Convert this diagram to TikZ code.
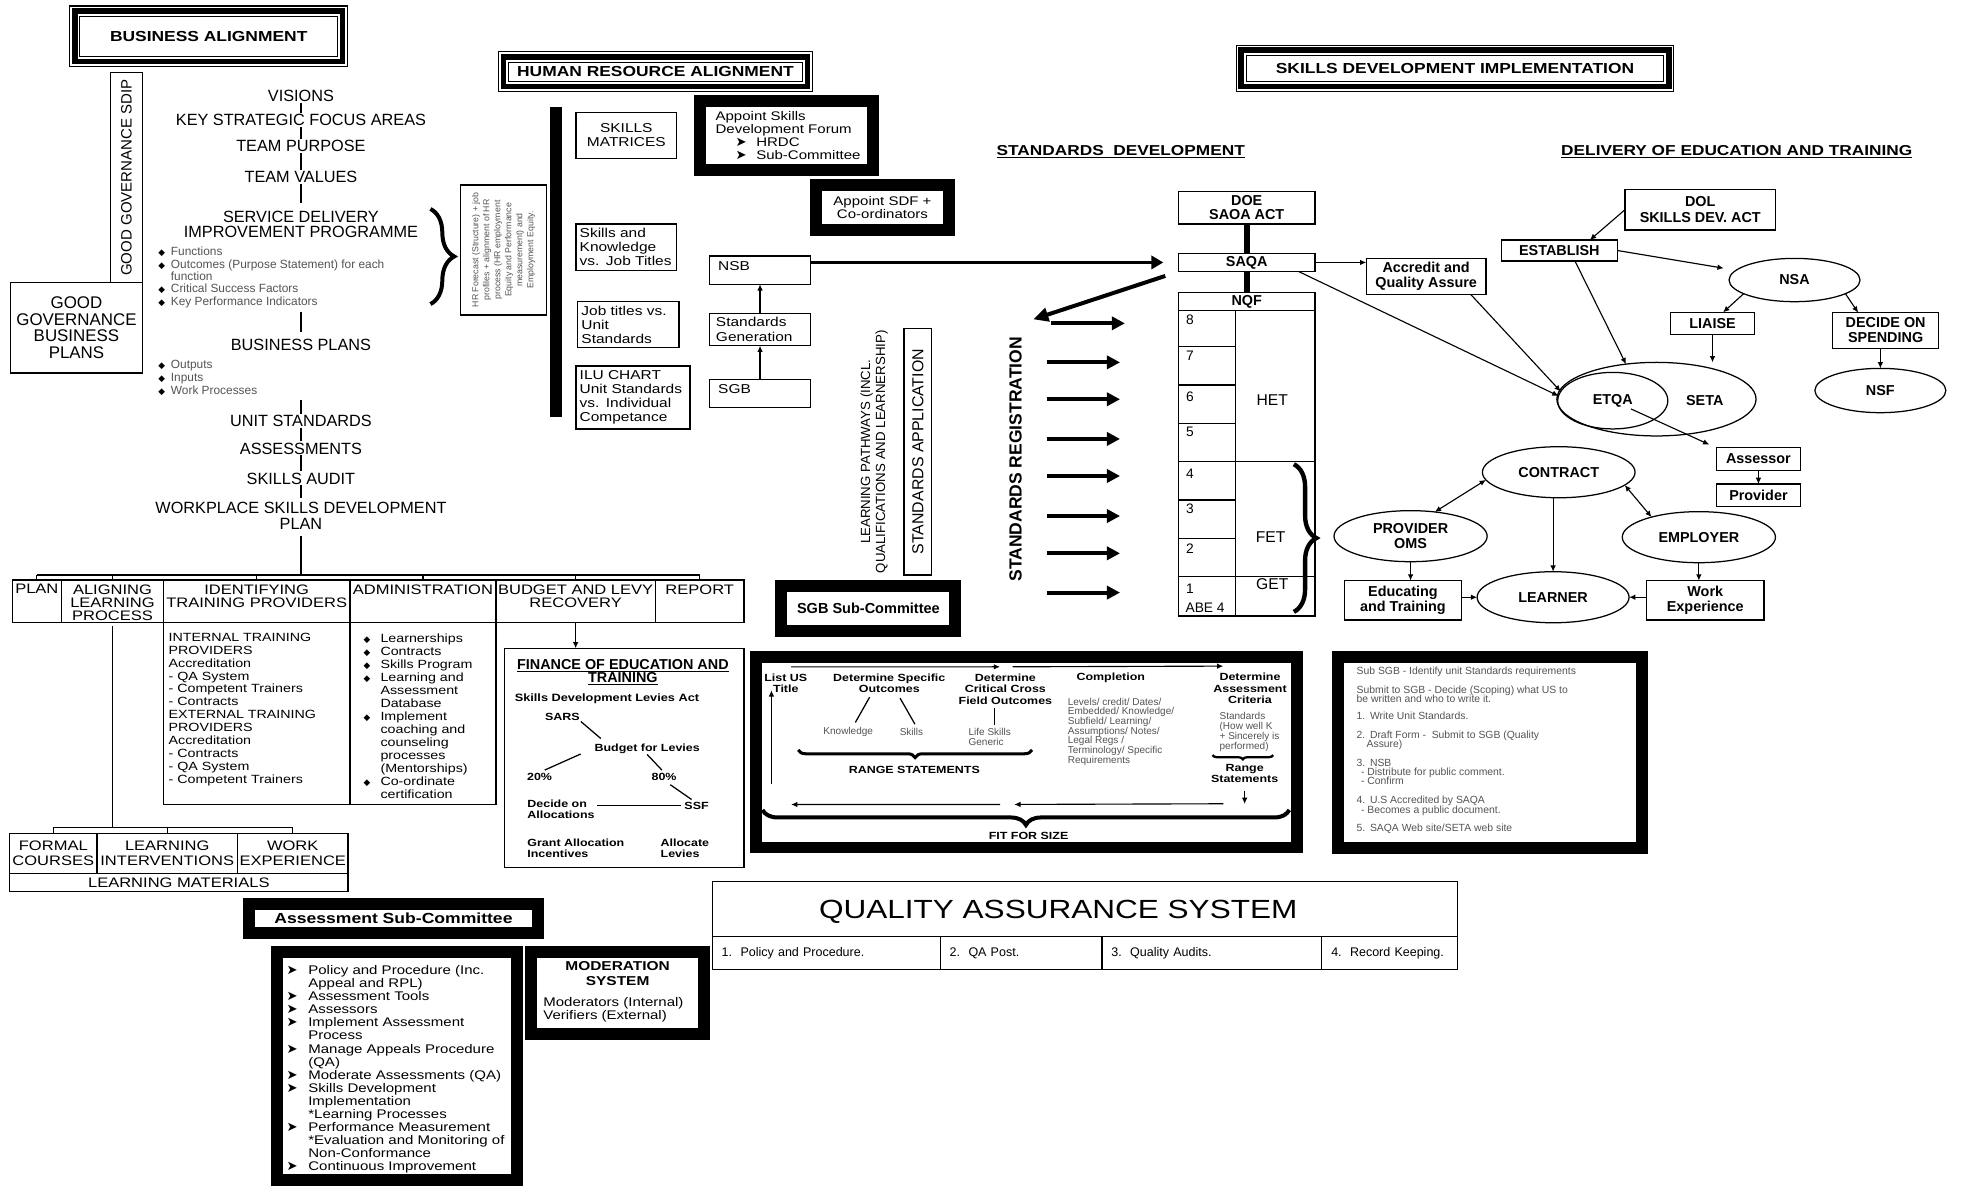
\documentclass[tikz,border=0pt]{standalone}
\usepackage{fontspec}
\setmainfont{Liberation Sans}
\newfontfamily\widefont{Liberation Sans}[FakeStretch=1.2]
\newfontfamily\dejavu{DejaVu Sans}
\usetikzlibrary{arrows.meta,decorations.pathreplacing,calc,shapes.geometric}
\newcommand\fsz[2]{\fontsize{#1}{#2}\selectfont}
\newcommand\bulletdia[2]{\makebox[#1][l]{\color{black}\dejavu\fontsize{#2}{#2}\selectfont ◆}}
\newcommand\bulletarrow[1]{\makebox[#1][l]{\dejavu\fontsize{10.5}{10}\selectfont ➤}}
\definecolor{soft}{gray}{0.33}
\newcommand\tripleframe[1]{%
  \draw[line width=4.5pt] ($(#1.north west)+(4.2,4.2)$) rectangle ($(#1.south east)-(4.2,4.2)$);
  \draw[line width=0.8pt] ($(#1.north west)+(8.3,8.3)$) rectangle ($(#1.south east)-(8.3,8.3)$);}
\tikzset{
  every node/.style={inner sep=0pt, outer sep=0pt},
  tbox/.style={draw, line width=1pt},
  hdr/.style={draw, line width=0.8pt, font=\widefont\bfseries\fsz{11.6}{13}},
  spine/.style={font=\fsz{13}{12}, inner sep=1pt},
  capsline/.style={text height=9.3pt, text depth=0pt},
  hrbox/.style={tbox, font=\widefont\fsz{10.3}{11.2}},
  heavybox/.style={draw, line width=9.5pt, fill=white},
  ovl/.style={ellipse, draw, line width=1pt, font=\bfseries\fsz{11.5}{12}, align=center},
  dbox/.style={tbox, font=\bfseries\fsz{11.5}{12}, align=center},
  arw/.style={-{Latex[length=5pt,width=4.5pt]}, line width=0.9pt},
  twotip/.style={{Latex[length=5pt,width=4.5pt]}-{Latex[length=5pt,width=4.5pt]}, line width=0.9pt},
  fatarrow/.style={line width=3.2pt, -{Triangle[length=10.5pt,width=10.5pt]}},
  cellbox/.style={tbox, anchor=north west},
  celltext/.style={font=\widefont\fsz{11}{10.6}, align=center, anchor=north},
  finl/.style={font=\widefont\bfseries\fsz{8.3}{8.7}},
  sth/.style={font=\widefont\bfseries\fsz{8.3}{9.2}, align=center},
  small/.style={font=\fsz{8}{8}, text=soft},
}
\begin{document}
\lineskiplimit=-20pt
\begin{tikzpicture}[x=1pt, y=-1pt, line width=1pt]
\useasboundingbox (0,0) rectangle (1568,949);
\fill[white] (0,0) rectangle (1568,949);

% ---------- section headers ----------
\node[hdr, minimum width=222.4pt, minimum height=48.5pt] (ba) at (166.8,29.05) {BUSINESS ALIGNMENT};
\tripleframe{ba}
\node[hdr, minimum width=251.3pt, minimum height=32pt] (hra) at (523.85,57.3) {HUMAN RESOURCE ALIGNMENT};
\tripleframe{hra}
\node[hdr, minimum width=350pt, minimum height=37.3pt] (sdi) at (1162.8,54.65) {SKILLS DEVELOPMENT IMPLEMENTATION};
\tripleframe{sdi}

% ---------- business alignment column ----------
\node[tbox, rotate=90, minimum width=168pt, minimum height=25.1pt, font=\fsz{12}{13}] (sdip) at (101.05,142) {GOOD GOVERNANCE SDIP};
\node[tbox, minimum width=105pt, minimum height=72pt, font=\fsz{13.5}{13.3}, align=center] (ggbp) at (61.1,262) {GOOD\\GOVERNANCE\\BUSINESS\\PLANS};

\node[spine, capsline] (vis) at (240.5,76.7) {VISIONS};
\node[spine, capsline] (ksfa) at (240.5,95.9) {KEY STRATEGIC FOCUS AREAS};
\node[spine, capsline] (tpur) at (240.5,116.7) {TEAM PURPOSE};
\node[spine, capsline] (tval) at (240.5,141.2) {TEAM VALUES};
\node[spine, align=center, font=\fsz{13}{11.4}] (sdp) at (240.5,179.4) {SERVICE DELIVERY\\IMPROVEMENT PROGRAMME};
\node[anchor=north west, align=left, font=\fsz{9.5}{9.85}, text=soft] (sdbul) at (126.6,197.7)
  {\bulletdia{10pt}{7}Functions\\\bulletdia{10pt}{7}Outcomes (Purpose Statement) for each\\\hspace*{10pt}function\\\bulletdia{10pt}{7}Critical Success Factors\\\bulletdia{10pt}{7}Key Performance Indicators};
\node[spine, capsline] (bp) at (240.5,275.7) {BUSINESS PLANS};
\node[anchor=north west, align=left, font=\fsz{9.5}{10.25}, text=soft] (bpbul) at (126.6,287.8)
  {\bulletdia{10pt}{7}Outputs\\\bulletdia{10pt}{7}Inputs\\\bulletdia{10pt}{7}Work Processes};
\node[spine, capsline] (ust) at (240.5,336.2) {UNIT STANDARDS};
\node[spine, capsline] (asm) at (240.5,358.3) {ASSESSMENTS};
\node[spine, capsline] (sau) at (240.5,382.3) {SKILLS AUDIT};
\node[spine, align=center, font=\fsz{13}{12.8}] (wsdp) at (240.5,412.6) {WORKPLACE SKILLS DEVELOPMENT\\PLAN};

\draw (vis) -- (ksfa);
\draw (ksfa) -- (tpur);
\draw (tpur) -- (tval);
\draw[shorten >=6pt] (tval) -- (sdp);
\coordinate (bpTop) at (240.5,249);
\draw[shorten >=5pt] (bpTop) -- (bp.north);
\coordinate (usTop) at (240.5,319.7);
\draw (usTop) -- (ust.north);
\draw (ust) -- (asm);
\draw (asm) -- (sau);
\draw[shorten >=3pt] (sau) -- (wsdp);
\coordinate (busC) at (240.5,459.5);
\draw[shorten <=4pt] (wsdp.south) -- (busC);

\draw[decorate, decoration={brace, amplitude=19pt}, line width=3.2pt] (344,167) -- (344,243);
\node[tbox, rotate=90, minimum width=103.9pt, minimum height=68.5pt, align=center, font=\fsz{7}{8.8}, text=soft] (hrf) at (402.45,199.75)
  {HR Forecast (Structure) + job\\profiles + alignment of HR\\process (HR employment\\Equity and Performance\\measurement) and\\Employment Equity.};
\fill (439.5,85.2) rectangle (448.9,333);

% ---------- human resource column ----------
\node[hrbox, minimum width=80.5pt, minimum height=36.5pt, align=center] (skm) at (500.55,108.25) {SKILLS\\MATRICES};
\node[hrbox, text width=74.5pt, inner xsep=3pt, minimum height=37.3pt, align=left] (skj) at (500.55,197.65) {Skills and\\Knowledge\\vs. Job Titles};
\node[hrbox, text width=74.9pt, inner xsep=3pt, minimum height=36.5pt, align=left] (jtu) at (502.15,259.35) {Job titles vs.\\Unit\\Standards};
\node[hrbox, text width=85.1pt, inner xsep=3pt, minimum height=50.3pt, align=left] (ilu) at (505.85,317.65) {ILU CHART\\Unit Standards\\vs. Individual\\Competance};

\node[heavybox, text width=113.6pt, inner xsep=12.5pt, minimum height=54.9pt, align=left, font=\widefont\fsz{10}{10.2}] (asdf) at (628.7,108.35)
  {\mbox{Appoint Skills}\\\mbox{Development Forum}\\\mbox{\hspace*{16pt}\bulletarrow{16.5pt}HRDC}\\\mbox{\hspace*{16pt}\bulletarrow{16.5pt}Sub-Committee}};
\node[heavybox, minimum width=106.9pt, minimum height=35.3pt, align=center, font=\widefont\fsz{10}{9.8}] (sdfc) at (705.25,165.85) {Appoint SDF +\\Co-ordinators};

\node[hrbox, text width=66.8pt, inner xsep=7.1pt, minimum height=22.6pt, align=left, text height=7.4pt, text depth=6.6pt] (nsb) at (607.4,215.9) {NSB};
\node[hrbox, text width=70.4pt, inner xsep=5.3pt, minimum height=25.9pt, align=left, font=\widefont\fsz{10.3}{11.7}] (sgen) at (607.4,263.35) {Standards\\Generation};
\node[hrbox, text width=66.8pt, inner xsep=7.1pt, minimum height=22.4pt, align=left, text height=7.4pt, text depth=6.4pt] (sgb) at (607.4,314.3) {SGB};

% ---------- standards development ----------
\node[anchor=base, font=\widefont\bfseries\fsz{11.5}{12}] (stdev) at (895.7,124.5) {\underline{STANDARDS\ \ DEVELOPMENT}};
\node[dbox, minimum width=109.3pt, minimum height=25.8pt, font=\bfseries\fsz{11.5}{11.4}] (doe) at (996.35,166.1) {DOE\\SAOA ACT};
\node[dbox, minimum width=109.3pt, minimum height=14.7pt] (saqa) at (996.35,209.75) {SAQA};
\node[dbox, minimum width=109.3pt, minimum height=14.7pt] (nqf) at (996.35,240.95) {NQF};
\draw[line width=4.5pt] (doe) -- (saqa);
\draw[line width=4.5pt] (saqa) -- (nqf);

\draw (941.7,248.3) rectangle (1051,492.3);
\draw (987.5,248.3) -- (987.5,492.3);
\foreach \y in {277,307.7,338.3,399.6,430.2} \draw (941.7,\y) -- (987.5,\y);
\foreach \y in {369,460.9} \draw (941.7,\y) -- (1051,\y);
\foreach \n/\y in {8/255.7,7/284.2,6/317,5/345,4/378.3,3/406.8,2/438.2,1/470.2}
  \node[font=\fsz{11}{12}] (lv\n) at (951,\y) {\n};
\node[font=\fsz{11}{12}, anchor=west] (abe) at (947.5,485.4) {ABE 4};
\node[font=\fsz{12.5}{13}] (het) at (1016.8,319.7) {HET};
\node[font=\fsz{12.5}{13}] (fet) at (1015.5,429.4) {FET};
\node[font=\fsz{12.5}{13}] (get) at (1016.8,466.7) {GET};
\draw[decorate, decoration={brace, amplitude=18pt}, line width=3.5pt] (1034,371) -- (1034,489);

\node[rotate=90, font=\bfseries\fsz{14}{15}] (sreg) at (811.7,367) {STANDARDS REGISTRATION};
\foreach \xa/\xb/\y [count=\i] in {840/899/258.4,836.5/895.1/289.6,836.5/895.1/319.1,836.5/895.1/350.8,836.5/895.1/380.4,836.5/895.1/412.4,836.5/895.1/442.2,836.5/895.1/473.6} {
  \coordinate (ra\i) at (\xa,\y);
  \coordinate (rb\i) at (\xb,\y);
  \draw[fatarrow] (ra\i) -- (rb\i);}
\coordinate (regtip) at (825.8,255.2);
\draw[line width=3.2pt, -{Triangle[length=12pt,width=11pt]}, shorten <=11pt] (saqa.south west) -- (regtip);

\node[rotate=90, align=center, font=\fsz{10.6}{12}] (lpw) at (698.6,361) {LEARNING PATHWAYS (INCL.\\QUALIFICATIONS AND LEARNERSHIP)};
\node[tbox, rotate=90, minimum width=197.1pt, minimum height=22.1pt, font=\fsz{12.7}{13}] (sapp) at (733.55,360.95) {STANDARDS APPLICATION};
\node[heavybox, minimum width=139pt, minimum height=36pt, font=\bfseries\fsz{11.6}{12}] (sgbsc) at (694,486.5) {SGB Sub-Committee};

\draw[arw] (sgb) -- (sgen);
\draw[arw] (sgen) -- (nsb);
\draw[line width=2.7pt, -{Triangle[length=9.5pt,width=10.5pt]}, shorten >=12pt] (nsb.east |- saqa.west) -- (saqa.west);

% ---------- delivery of education and training ----------
\node[anchor=base, font=\widefont\bfseries\fsz{11.5}{12}] (delt) at (1388,124) {\underline{DELIVERY OF EDUCATION AND TRAINING}};
\node[dbox, minimum width=120.2pt, minimum height=32.5pt, font=\bfseries\fsz{11.5}{13.3}] (dol) at (1358.8,167.55) {DOL\\SKILLS DEV. ACT};
\node[dbox, minimum width=92.8pt, minimum height=16.8pt] (est) at (1246.2,200.2) {ESTABLISH};
\node[ovl, minimum width=104.7pt, minimum height=34.6pt] (nsa) at (1434.15,223.8) {NSA};
\node[dbox, minimum width=67pt, minimum height=17.6pt] (liaise) at (1368.6,258.4) {LIAISE};
\node[dbox, minimum width=84.7pt, minimum height=28.5pt] (dos) at (1506.95,264.15) {DECIDE ON\\SPENDING};
\node[ovl, minimum width=104.7pt, minimum height=35.4pt] (nsf) at (1502.75,312.1) {NSF};
\node[ovl, minimum width=159.2pt, minimum height=58.8pt] (seta) at (1323.8,319) {};
\node[font=\bfseries\fsz{11.5}{12}] (setat) at (1362.4,320.2) {SETA};
\node[ovl, minimum width=88pt, minimum height=45.2pt] (etqa) at (1288.9,320.2) {ETQA};
\node[dbox, minimum width=95.7pt, minimum height=28.7pt] (acc) at (1139.75,220.85) {Accredit and\\Quality Assure};
\node[dbox, minimum width=67.6pt, minimum height=18.7pt] (assr) at (1405.3,366.85) {Assessor};
\node[dbox, minimum width=67.6pt, minimum height=18.1pt] (prov) at (1405.3,395.85) {Provider};
\node[ovl, minimum width=122pt, minimum height=40.8pt] (ctr) at (1245.7,377.4) {CONTRACT};
\node[ovl, minimum width=122.4pt, minimum height=40.8pt] (pom) at (1127.3,428.5) {PROVIDER\\OMS};
\node[ovl, minimum width=122.4pt, minimum height=40.8pt] (emp) at (1357.7,429.3) {EMPLOYER};
\node[ovl, minimum width=121.4pt, minimum height=40.8pt] (lrn) at (1241.2,477.3) {LEARNER};
\node[dbox, minimum width=94pt, minimum height=31.5pt, font=\bfseries\fsz{11.5}{11.4}] (edu) at (1121.2,479.75) {Educating\\and Training};
\node[dbox, minimum width=94pt, minimum height=31.5pt, font=\bfseries\fsz{11.5}{11.4}] (wex) at (1362.8,479.75) {Work\\Experience};

\draw[arw] (dol.west) -- (est.19);
\draw[arw, shorten >=10pt] (est.east) -- (nsa);
\draw[arw] (nsa.195) -- (liaise.46);
\draw[arw] (nsa.345) -- (dos.147);
\draw[arw] (dos.south -| nsf) -- (nsf.north);
\draw[arw] (liaise.south) -- (liaise.south |- seta.north);
\draw[arw] (est.-34) -- (seta.131);
\draw[arw] (saqa.east) -- (saqa.east -| acc.west);
\draw[arw] (saqa.-10) -- (etqa.175);
\draw[arw] (acc.-22) -- (etqa.170);
\draw[arw, shorten <=16pt, shorten >=6pt] (etqa.center) -- (assr.165);
\draw[arw] (assr.south) -- (prov.north);
\draw[twotip] (ctr.186) -- (pom.45);
\draw[twotip] (ctr.-11) -- (emp.157);
\draw[arw] (ctr.south -| lrn) -- (lrn.north);
\draw[arw] (pom.south) -- (pom.south |- edu.north);
\draw[arw] (emp.south) -- (emp.south |- wex.north);
\draw[arw] (edu.east |- lrn.west) -- (lrn.west);
\draw[arw] (wex.west |- lrn.east) -- (lrn.east);

% ---------- workplace skills plan table ----------
\node[cellbox, minimum width=39.5pt, minimum height=34.1pt] (c1) at (9.7,463.5) {};
\node[cellbox, minimum width=81.4pt, minimum height=34.1pt] (c2) at (49.2,463.5) {};
\node[cellbox, minimum width=149.1pt, minimum height=34.1pt] (c3) at (130.6,463.5) {};
\node[cellbox, minimum width=116.6pt, minimum height=34.1pt] (c4) at (279.7,463.5) {};
\node[cellbox, minimum width=127.5pt, minimum height=34.1pt] (c5) at (396.3,463.5) {};
\node[cellbox, minimum width=70.8pt, minimum height=34.1pt] (c6) at (523.8,463.5) {};
\node[celltext] (c1t) at ([yshift=-3.6pt]c1.north) {PLAN};
\node[celltext] (c2t) at ([yshift=-3.6pt]c2.north) {ALIGNING\\LEARNING\\PROCESS};
\node[celltext] (c3t) at ([yshift=-3.6pt]c3.north) {IDENTIFYING\\TRAINING PROVIDERS};
\node[celltext] (c4t) at ([yshift=-3.6pt]c4.north) {ADMINISTRATION};
\node[celltext] (c5t) at ([yshift=-3.6pt]c5.north) {BUDGET AND LEVY\\RECOVERY};
\node[celltext] (c6t) at ([yshift=-3.6pt]c6.north) {REPORT};
\draw (c1.north |- busC) -- (c6.north |- busC);
\foreach \c in {c1,c2,c3,c4,c5,c6} \draw (\c.north |- busC) -- (\c.north);

\node[cellbox, minimum width=149.1pt, minimum height=145.2pt] (c3b) at (130.6,497.6) {};
\node[cellbox, minimum width=116.6pt, minimum height=145.2pt] (c4b) at (279.7,497.6) {};
\node[anchor=north west, align=left, font=\widefont\fsz{9.5}{10.32}] (c3x) at (134.8,505.9)
  {INTERNAL TRAINING\\PROVIDERS\\Accreditation\\- QA System\\- Competent Trainers\\- Contracts\\EXTERNAL TRAINING\\PROVIDERS\\Accreditation\\- Contracts\\- QA System\\- Competent Trainers};
\node[anchor=north west, align=left, font=\widefont\fsz{9.5}{10.4}] (c4x) at (290.5,506.2)
  {\bulletdia{13.6pt}{7}Learnerships\\\bulletdia{13.6pt}{7}Contracts\\\bulletdia{13.6pt}{7}Skills Program\\\bulletdia{13.6pt}{7}Learning and\\\hspace*{13.6pt}Assessment\\\hspace*{13.6pt}Database\\\bulletdia{13.6pt}{7}Implement\\\hspace*{13.6pt}coaching and\\\hspace*{13.6pt}counseling\\\hspace*{13.6pt}processes\\\hspace*{13.6pt}(Mentorships)\\\bulletdia{13.6pt}{7}Co-ordinate\\\hspace*{13.6pt}certification};

\coordinate (bus2) at (89.9,661.2);
\draw[shorten <=3pt] (c2.south) -- (bus2);
\node[cellbox, minimum width=69.8pt, minimum height=32pt, align=center, font=\widefont\fsz{11}{12.6}] (fc) at (7.7,666) {FORMAL\\COURSES};
\node[cellbox, minimum width=112.3pt, minimum height=32pt, align=center, font=\widefont\fsz{11}{12.6}] (lint) at (77.5,666) {LEARNING\\INTERVENTIONS};
\node[cellbox, minimum width=88.3pt, minimum height=32pt, align=center, font=\widefont\fsz{11}{12.6}] (wexp) at (189.8,666) {WORK\\EXPERIENCE};
\node[cellbox, minimum width=270.4pt, minimum height=14.6pt, font=\widefont\fsz{11}{12}] (lmat) at (7.7,698) {LEARNING MATERIALS};
\draw (fc.north |- bus2) -- (wexp.north |- bus2);
\foreach \c in {fc,lint,wexp} \draw (\c.north |- bus2) -- (\c.north);

% ---------- finance box ----------
\node[tbox, minimum width=191.7pt, minimum height=175.1pt] (fin) at (498.75,605.65) {};
\draw[arw] (c5.south) -- (c5.south |- fin.north);
\node[align=center, font=\bfseries\fsz{11.5}{10.4}] (fint) at (497.8,537.3) {\underline{FINANCE OF EDUCATION AND}\\\underline{TRAINING}};
\node[anchor=base west, font=\widefont\bfseries\fsz{8.5}{9}] (sdla) at (411.4,560.7) {Skills Development Levies Act};
\node[finl, inner sep=1pt] (sars) at (449.4,572.7) {SARS};
\node[finl, inner sep=1pt] (budlev) at (517.2,598.1) {Budget for Levies};
\node[finl, inner sep=1pt] (p20) at (431.2,621.2) {20\%};
\node[finl, inner sep=1pt] (p80) at (530.7,621.2) {80\%};
\node[finl, inner sep=1pt] (ssf) at (556.7,643.9) {SSF};
\node[finl, anchor=north west, align=left] (dec) at (421.5,639.5) {Decide on\\Allocations};
\node[finl, anchor=north west, align=left] (gra) at (421.5,670.4) {Grant Allocation\\Incentives};
\node[finl, anchor=north west, align=left] (alv) at (528,670.4) {Allocate\\Levies};
\draw (sars.south east) -- ($(budlev.north west)+(6,-3)$);
\draw[shorten <=11pt, shorten >=4.5pt] (budlev.west) -- (p20.north);
\draw[shorten >=2.5pt] (budlev.south) -- (p80.north);
\draw ($(p80.south)+(5,2)$) -- ($(ssf.north)+(-4,-1)$);
\draw[shorten <=2pt, shorten >=2pt] (dec.east |- ssf.west) -- (ssf.west);

% ---------- unit standard writing steps ----------
\node[heavybox, minimum width=432.4pt, minimum height=152.1pt] (steps) at (820.6,601.25) {};
\node[sth] (lus) at (628,546.1) {List US\\Title};
\node[sth] (dso) at (710.7,546.1) {Determine Specific\\Outcomes};
\node[sth] (dcc) at (803.5,550.65) {Determine\\Critical Cross\\Field Outcomes};
\node[sth] (cmp) at (887.7,541.3) {Completion};
\node[sth] (dac) at (999,550.1) {Determine\\Assessment\\Criteria};
\node[small] (knw) at (677.9,584.7) {Knowledge};
\node[small] (skl) at (728.4,584.7) {Skills};
\node[small, anchor=north west, align=left] (lsg) at (774.1,581.8) {Life Skills\\Generic};
\node[anchor=north west, align=left, font=\fsz{8}{7.7}, text=soft] (cmpx) at (853.4,557.9)
  {Levels/ credit/ Dates/\\Embedded/ Knowledge/\\Subfield/ Learning/\\Assumptions/ Notes/\\Legal Regs /\\Terminology/ Specific\\Requirements};
\node[small, anchor=north west, align=left] (stdx) at (974.7,569.3) {Standards\\(How well K\\+ Sincerely is\\performed)};
\node[sth] (rgs) at (730.7,615.4) {RANGE STATEMENTS};
\node[sth] (rgs2) at (994.7,618) {Range\\Statements};
\node[sth] (fit) at (822,668.1) {FIT FOR SIZE};
\draw ($(dso.south)+(-15.7,3.4)$) -- ($(knw.north)+(5.7,-3.6)$);
\draw ($(dso.south)+(8.6,4.2)$) -- ($(skl.north)+(2.8,-3)$);
\draw ($(dcc.south)+(-8.6,3.1)$) -- ($(dcc.south)+(-8.6,16.4)$);
\draw[arw] ($(lus.north)+(4.2,-5.5)$) -- ($(dcc.north)+(-4.3,-5.5)$);
\draw[arw] ($(dcc.north)+(5.7,-5.5)$) -- ($(dac.north)+(-21.4,-5.5)$);
\draw[arw] ($(lus.south)+(-11.5,72.5)$) -- ($(lus.south)+(-11.5,-2.1)$);
\draw[arw] ($(rgs2.south)+(0,6.3)$) -- ($(rgs2.south)+(0,17)$);
\draw[arw] ($(dac.north)+(-21.4,104.5)$) -- ($(dcc.north)+(7.1,104.5)$);
\draw[arw] ($(dcc.north)+(-4.3,104.5)$) -- ($(lus.north)+(4.2,104.5)$);
\draw[decorate, decoration={brace, amplitude=6pt}, line width=2.4pt] (824.8,599.4) -- (637.9,599.4);
\draw[decorate, decoration={brace, amplitude=3.5pt}, line width=1.8pt] (1017.5,603.4) -- (969,603.4);
\draw[decorate, decoration={brace, amplitude=12pt}, line width=3.2pt] (1030.4,647.3) -- (609.4,647.3);

% ---------- SGB procedure box ----------
\node[heavybox, minimum width=242.4pt, minimum height=152.8pt] (sbox) at (1190.8,601.6) {};
\node[anchor=north west, align=left, font=\fsz{8.3}{7.5}, text=soft] (sboxt) at (1084.2,533)
  {Sub SGB - Identify unit Standards requirements\\[7.4pt]
   Submit to SGB - Decide (Scoping) what US to\\
   be written and who to write it.\\[5.8pt]
   \makebox[10.7pt][l]{1.}Write Unit Standards.\\[8pt]
   \makebox[10.7pt][l]{2.}Draft Form - \ Submit to SGB (Quality\\
   \hspace*{8pt}Assure)\\[7.1pt]
   \makebox[10.7pt][l]{3.}NSB\\
   \hspace*{3.5pt}- Distribute for public comment.\\
   \hspace*{3.5pt}- Confirm\\[7.6pt]
   \makebox[10.7pt][l]{4.}U.S Accredited by SAQA\\
   \hspace*{3.5pt}- Becomes a public document.\\[7.2pt]
   \makebox[10.7pt][l]{5.}SAQA Web site/SETA web site};

% ---------- assessment and moderation ----------
\node[heavybox, minimum width=231.1pt, minimum height=23.6pt, font=\widefont\bfseries\fsz{11.7}{12}] (asc) at (314.45,734.1) {Assessment Sub-Committee};
\node[heavybox, minimum width=191.5pt, minimum height=182pt] (alist) at (317.15,852) {};
\node[anchor=north west, align=left, font=\widefont\fsz{10}{10.45}] (alistt) at (229.1,771.6)
  {\bulletarrow{17.3pt}Policy and Procedure (Inc.\\
   \hspace*{17.3pt}Appeal and RPL)\\
   \bulletarrow{17.3pt}Assessment Tools\\
   \bulletarrow{17.3pt}Assessors\\
   \bulletarrow{17.3pt}Implement Assessment\\
   \hspace*{17.3pt}Process\\
   \bulletarrow{17.3pt}Manage Appeals Procedure\\
   \hspace*{17.3pt}(QA)\\
   \bulletarrow{17.3pt}Moderate Assessments (QA)\\
   \bulletarrow{17.3pt}Skills Development\\
   \hspace*{17.3pt}Implementation\\
   \hspace*{17.3pt}*Learning Processes\\
   \bulletarrow{17.3pt}Performance Measurement\\
   \hspace*{17.3pt}*Evaluation and Monitoring of\\
   \hspace*{17.3pt}Non-Conformance\\
   \bulletarrow{17.3pt}Continuous Improvement};
\node[heavybox, minimum width=138.4pt, minimum height=65.5pt] (mods) at (493.5,793.75) {};
\node[align=center, font=\widefont\bfseries\fsz{10.3}{11.7}] (modh) at (493.6,777.85) {MODERATION\\SYSTEM};
\node[anchor=north west, align=left, font=\widefont\fsz{10}{10.2}] (modt) at (434.2,797.4) {Moderators (Internal)\\Verifiers (External)};

% ---------- quality assurance system ----------
\node[tbox, minimum width=595.3pt, minimum height=44pt] (qab) at (866.95,726.6) {};
\node[font=\widefont\fsz{21}{22}] (qat) at (845.7,728.6) {QUALITY ASSURANCE SYSTEM};
\node[cellbox, text width=167.2pt, inner xsep=7.5pt, minimum height=26.1pt, align=left, font=\fsz{10}{11}] (q1) at (569.3,748.6) {1.\ \ Policy and Procedure.};
\node[cellbox, text width=114.2pt, inner xsep=7.5pt, minimum height=26.1pt, align=left, font=\fsz{10}{11}] (q2) at (751.5,748.6) {2.\ \ QA Post.};
\node[cellbox, text width=160.7pt, inner xsep=7.5pt, minimum height=26.1pt, align=left, font=\fsz{10}{11}] (q3) at (880.7,748.6) {3.\ \ Quality Audits.};
\node[cellbox, text width=93.2pt, inner xsep=7.5pt, minimum height=26.1pt, align=left, font=\fsz{10}{11}] (q4) at (1056.4,748.6) {4.\ \ Record Keeping.};

\end{tikzpicture}
\end{document}
